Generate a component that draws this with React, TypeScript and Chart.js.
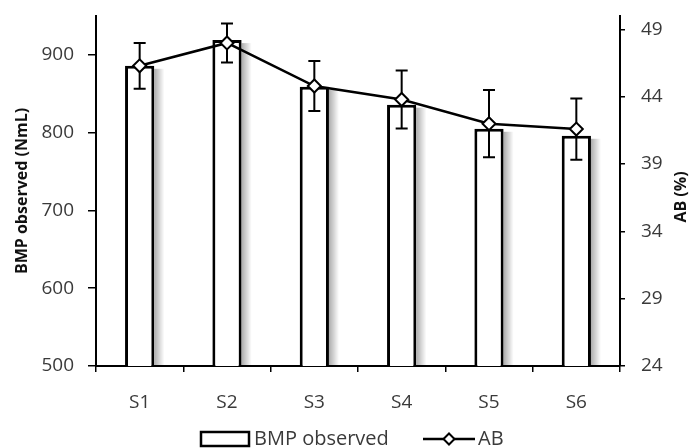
import React, { useEffect, useRef } from "react";
import { Chart, registerables } from "chart.js";

Chart.register(...registerables);

const categories = ["S1", "S2", "S3", "S4", "S5", "S6"];
const bmpObserved = [886, 919, 859, 836, 805, 796];
const abValues = [46.3, 48.0, 44.8, 43.8, 42.0, 41.6];
const abErrors = [1.7, 1.45, 1.86, 2.16, 2.5, 2.27];
const leftTicks = [500, 600, 700, 800, 900];
const rightTicks = [24, 29, 34, 39, 44, 49];
const leftTitle = "BMP observed (NmL)";
const rightTitle = "AB (%)";
const legendLabels = ["BMP observed", "AB"];

const FONT = "'Open Sans', 'DejaVu Sans', sans-serif";
const TICK_COLOR = "#3a3a3a";

const barShadowPlugin = {
  id: "barShadow",
  beforeDatasetDraw(chart: any, args: any) {
    if (args.index !== 0) return;
    const ctx = chart.ctx;
    const area = chart.chartArea;
    const meta = chart.getDatasetMeta(0);
    ctx.save();
    meta.data.forEach((el: any) => {
      const { x, y, base, width } = el.getProps(["x", "y", "base", "width"], true);
      const right = x + width / 2;
      const bottom = Math.min(base, area.bottom);
      const g = ctx.createLinearGradient(right, 0, right + 10, 0);
      g.addColorStop(0, "rgba(0,0,0,0.32)");
      g.addColorStop(1, "rgba(0,0,0,0)");
      ctx.fillStyle = g;
      ctx.fillRect(right, y + 3, 10, bottom - y - 3);
    });
    ctx.restore();
  },
};

const errorBarPlugin = {
  id: "errorBars",
  beforeDatasetDraw(chart: any, args: any) {
    if (args.index !== 1) return;
    const ctx = chart.ctx;
    const xs = chart.scales.x;
    const ys = chart.scales.y1;
    ctx.save();
    ctx.strokeStyle = "#000";
    ctx.lineWidth = 2;
    abValues.forEach((v, i) => {
      const x = xs.getPixelForValue(i);
      const yt = ys.getPixelForValue(v + abErrors[i]);
      const yb = ys.getPixelForValue(v - abErrors[i]);
      ctx.beginPath();
      ctx.moveTo(x, yt);
      ctx.lineTo(x, yb);
      ctx.moveTo(x - 6, yt);
      ctx.lineTo(x + 6, yt);
      ctx.moveTo(x - 6, yb);
      ctx.lineTo(x + 6, yb);
      ctx.stroke();
    });
    ctx.restore();
  },
};

const extrasPlugin = {
  id: "extras",
  afterDraw(chart: any) {
    const ctx = chart.ctx;
    const area = chart.chartArea;
    ctx.save();
    // right axis title, reading bottom-to-top
    ctx.translate(681, (area.top + area.bottom) / 2 + 6);
    ctx.rotate(-Math.PI / 2);
    ctx.font = `bold 16px ${FONT}`;
    ctx.fillStyle = "#111";
    ctx.textAlign = "center";
    ctx.textBaseline = "middle";
    ctx.fillText(rightTitle, 0, 0);
    ctx.restore();

    // legend
    ctx.save();
    const ly = 439;
    ctx.fillStyle = "#fff";
    ctx.strokeStyle = "#000";
    ctx.lineWidth = 2.5;
    ctx.fillRect(201, 432, 48, 14);
    ctx.strokeRect(201, 432, 48, 14);
    ctx.font = `20px ${FONT}`;
    ctx.fillStyle = TICK_COLOR;
    ctx.textAlign = "left";
    ctx.textBaseline = "middle";
    ctx.fillText(legendLabels[0], 254, ly);
    ctx.beginPath();
    ctx.moveTo(423, ly);
    ctx.lineTo(475, ly);
    ctx.lineWidth = 2.5;
    ctx.strokeStyle = "#000";
    ctx.stroke();
    ctx.beginPath();
    const cx = 449, r = 5.5;
    ctx.moveTo(cx - r, ly);
    ctx.lineTo(cx, ly - r);
    ctx.lineTo(cx + r, ly);
    ctx.lineTo(cx, ly + r);
    ctx.closePath();
    ctx.fillStyle = "#fff";
    ctx.fill();
    ctx.lineWidth = 2;
    ctx.stroke();
    ctx.fillStyle = TICK_COLOR;
    ctx.fillText(legendLabels[1], 478, ly);
    ctx.restore();
  },
};

export default function App() {
  const ref = useRef<HTMLCanvasElement | null>(null);

  useEffect(() => {
    if (!ref.current) return;
    const tickFont = { family: FONT, size: 19 };
    const chart = new Chart(ref.current, {
      type: "bar",
      data: {
        labels: categories,
        datasets: [
          {
            type: "bar",
            label: legendLabels[0],
            data: bmpObserved,
            backgroundColor: "#fff",
            borderColor: "#000",
            borderWidth: 3,
            barPercentage: 0.335,
            categoryPercentage: 1,
            yAxisID: "y",
            order: 1,
          } as any,
          {
            type: "line",
            label: legendLabels[1],
            data: abValues,
            borderColor: "#000",
            borderWidth: 2.5,
            pointStyle: "rectRot",
            pointRadius: 6.5,
            pointBackgroundColor: "#fff",
            pointBorderColor: "#000",
            pointBorderWidth: 2,
            tension: 0,
            yAxisID: "y1",
            order: 0,
          } as any,
        ],
      },
      options: {
        responsive: true,
        maintainAspectRatio: false,
        animation: false,
        layout: { padding: { top: 16, bottom: 32, left: 0, right: 0 } },
        plugins: {
          legend: { display: false },
          tooltip: { enabled: false },
        },
        scales: {
          x: {
            type: "category",
            grid: {
              offset: true,
              drawOnChartArea: false,
              drawTicks: true,
              tickLength: 6,
              color: "#000",
              lineWidth: 1.5,
            },
            border: { color: "#000", width: 2 },
            ticks: { font: tickFont, color: TICK_COLOR, padding: 19 },
            afterFit: (s: any) => {
              s.height = 50;
              s.paddingLeft = 0;
              s.paddingRight = 0;
            },
          },
          y: {
            position: "left",
            min: 500,
            max: 950,
            afterBuildTicks: (s: any) => {
              s.ticks = leftTicks.map((v) => ({ value: v }));
            },
            grid: {
              drawOnChartArea: false,
              drawTicks: true,
              tickLength: 8,
              color: "#000",
              lineWidth: 1.5,
            },
            border: { color: "#000", width: 2 },
            ticks: { font: tickFont, color: TICK_COLOR, padding: 14 },
            title: {
              display: true,
              text: leftTitle,
              color: "#111",
              font: { family: FONT, size: 16, weight: "bold" },
              padding: { top: 13, bottom: 0 },
            },
            afterFit: (s: any) => {
              s.width = 96;
              s.paddingTop = 0;
              s.paddingBottom = 0;
            },
          },
          y1: {
            position: "right",
            min: 24,
            max: 50,
            afterBuildTicks: (s: any) => {
              s.ticks = rightTicks.map((v) => ({ value: v }));
            },
            grid: {
              drawOnChartArea: false,
              drawTicks: true,
              tickLength: 5,
              color: "#000",
              lineWidth: 1.5,
            },
            border: { color: "#000", width: 2 },
            ticks: { font: tickFont, color: TICK_COLOR, padding: 16 },
            afterFit: (s: any) => {
              s.width = 77;
              s.paddingTop = 0;
              s.paddingBottom = 0;
            },
          },
        },
      } as any,
      plugins: [barShadowPlugin, errorBarPlugin, extrasPlugin],
    });
    return () => chart.destroy();
  }, []);

  return (
    <div style={{ position: "absolute", left: 0, top: 0, width: 697, height: 448 }}>
      <canvas ref={ref} />
    </div>
  );
}
